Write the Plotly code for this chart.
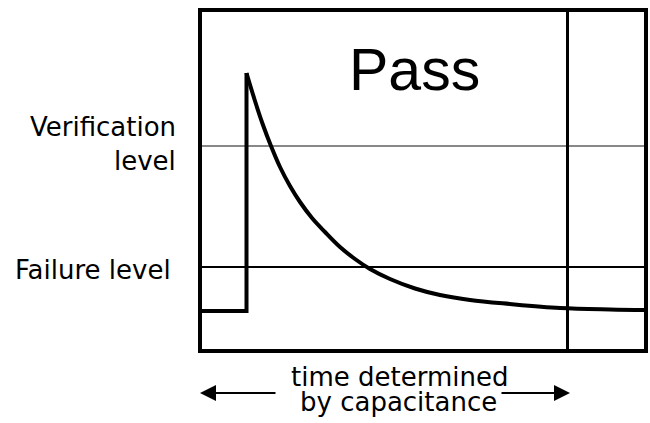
import plotly.graph_objects as go

# ---- data (time in arbitrary units, signal level in arbitrary units) ----
time_step = [0, 46.5, 46.5]
level_step = [40, 40, 278]
time_curve = [46.5, 55, 63, 71, 80, 90, 100, 112, 125, 140, 155, 170, 190, 215, 240, 270, 310, 360, 410, 446]
level_curve = [278, 250, 226, 205, 184, 165, 149, 133, 119, 104, 92, 82, 72, 62.5, 56, 51, 47, 43, 41.5, 41]

verification_level = 205
failure_level = 84
time_marker = 367.5

x_range = [0, 446]
y_range = [0, 341]

labels_left = ["Verification", "level", "Failure level"]
title_text = "Pass"
bottom_lines = ["time determined", "by capacitance"]

FONT_BIG = "Liberation Sans, Arial, Helvetica, sans-serif"
FONT = "DejaVu Sans, Liberation Sans, sans-serif"

fig = go.Figure()
fig.add_trace(go.Scatter(
    x=time_step, y=level_step,
    mode="lines", line=dict(color="black", width=4), hoverinfo="skip",
))
fig.add_trace(go.Scatter(
    x=time_curve, y=level_curve,
    mode="lines", line=dict(color="black", width=4, shape="spline", smoothing=1.0),
    hoverinfo="skip",
))

fig.update_xaxes(range=x_range, visible=False, showgrid=False, zeroline=False)
fig.update_yaxes(range=y_range, visible=False, showgrid=False, zeroline=False)

shapes = [
    dict(type="line", xref="paper", x0=0, x1=1, yref="y", y0=verification_level, y1=verification_level,
         line=dict(color="#888888", width=2), layer="below"),
    dict(type="line", xref="paper", x0=0, x1=1, yref="y", y0=failure_level, y1=failure_level,
         line=dict(color="black", width=2), layer="below"),
    dict(type="line", xref="x", x0=time_marker, x1=time_marker, yref="paper", y0=0, y1=1,
         line=dict(color="black", width=3), layer="below"),
    dict(type="rect", xref="paper", yref="paper", x0=0, x1=1, y0=0, y1=1,
         line=dict(color="black", width=4), layer="above"),
]

W_PLOT = 446.0
H_PLOT = 341.0
def px(x):
    return (x - 200) / W_PLOT
def py(y):
    return (351 - y) / H_PLOT

ann = [
    dict(text=title_text, x=px(414), y=py(70), xanchor="center", yanchor="middle",
         font=dict(size=59, family=FONT_BIG, color="black")),
    dict(text=labels_left[0], x=px(178), y=py(127), xanchor="right", yanchor="middle",
         font=dict(size=26, family=FONT, color="black")),
    dict(text=labels_left[1], x=px(178), y=py(161), xanchor="right", yanchor="middle",
         font=dict(size=26, family=FONT, color="black")),
    dict(text=labels_left[2], x=px(173), y=py(270), xanchor="right", yanchor="middle",
         font=dict(size=26, family=FONT, color="black")),
    dict(text=bottom_lines[0], x=px(399), y=py(377), xanchor="center", yanchor="middle",
         font=dict(size=26, family=FONT, color="black")),
    dict(text=bottom_lines[1], x=px(398), y=py(402), xanchor="center", yanchor="middle",
         font=dict(size=26, family=FONT, color="black")),
    # arrows
    dict(text="", x=px(200), y=py(393), ax=77, ay=0, showarrow=True,
         arrowhead=2, arrowsize=1.6, arrowwidth=2, arrowcolor="black"),
    dict(text="", x=px(570), y=py(393), ax=-70, ay=0, showarrow=True,
         arrowhead=2, arrowsize=1.6, arrowwidth=2, arrowcolor="black"),
]
for a in ann:
    a.setdefault("showarrow", False)
    a["xref"] = "paper"
    a["yref"] = "paper"

fig.update_layout(
    width=650, height=423,
    margin=dict(l=200, r=4, t=10, b=72),
    paper_bgcolor="white", plot_bgcolor="white",
    showlegend=False,
    shapes=shapes, annotations=ann,
)

fig.write_html(
    "out.html",
    config={"displayModeBar": False, "staticPlot": True},
    post_script="document.body.style.margin='0';document.body.style.overflow='hidden';",
)
